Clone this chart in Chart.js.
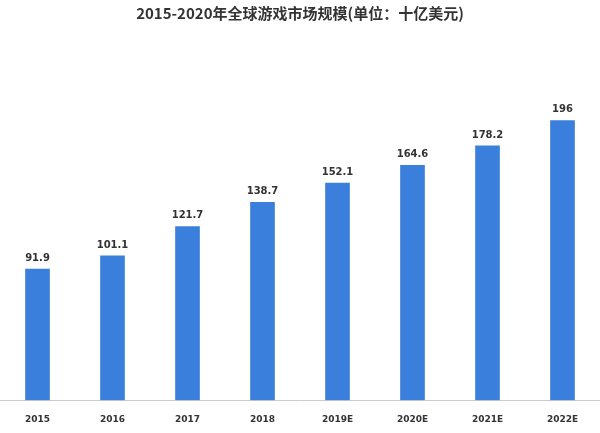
<!DOCTYPE html><html><head><meta charset="utf-8">
<script src="https://cdn.jsdelivr.net/npm/chart.js@4"></script>
<style>body{margin:0;background:#fff}#w{width:600px;height:433px}</style></head><body>
<div id="w"><canvas id="c"></canvas></div>
<script>
const categories=["2015","2016","2017","2018","2019E","2020E","2021E","2022E"];
const values=[91.9,101.1,121.7,138.7,152.1,164.6,178.2,196];
const labelPlugin={id:'lbl',afterDatasetsDraw(ch){const ctx=ch.ctx;ctx.save();ctx.font='bold 10px "DejaVu Sans"';ctx.fillStyle='#333';ctx.textAlign='center';ctx.textBaseline='bottom';
ch.getDatasetMeta(0).data.forEach((b,i)=>ctx.fillText(String(values[i]),b.x,b.y-6));ctx.restore();}};
new Chart(document.getElementById('c'),{type:'bar',data:{labels:categories,datasets:[{data:values,backgroundColor:'#3b7fdc',barThickness:24}]},
options:{responsive:true,maintainAspectRatio:false,animation:false,
layout:{padding:{left:-3,right:-3,top:0,bottom:2}},
plugins:{legend:{display:false},tooltip:{enabled:false},
title:{display:true,text:'2015-2020年全球游戏市场规模(单位：十亿美元)',color:'#333',font:{family:'"Noto Sans CJK SC"',size:15,weight:'bold'},padding:{top:4,bottom:50}}},
scales:{y:{display:false,min:0,max:230},
x:{grid:{display:false},border:{color:'#ccc'},ticks:{color:'#333',font:{family:'"DejaVu Sans"',size:9,weight:'bold'},padding:6}}}},
plugins:[labelPlugin]});
</script></body></html>
